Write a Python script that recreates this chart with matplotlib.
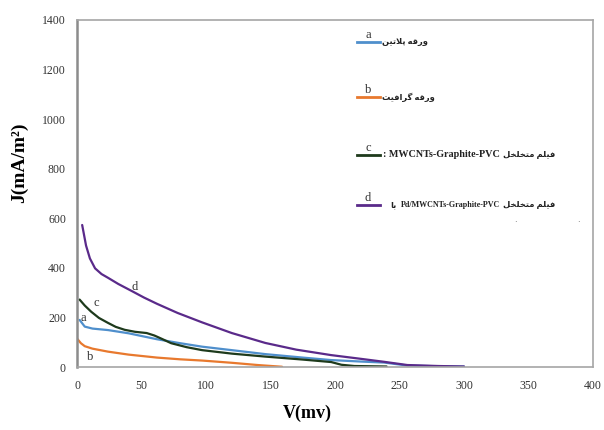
import matplotlib
matplotlib.use("Agg")
import matplotlib.pyplot as plt

# data (V in mv, J in mA/m2)
v_a = [2, 6, 12, 24, 40, 62, 80, 97, 120, 146, 175, 197, 220, 238, 256, 280, 300]
j_a = [190, 163, 155, 149, 136, 112, 96, 82, 68, 52, 38, 28, 22, 18, 6, 3, 2]

v_b = [0, 3, 6, 12, 24, 40, 62, 80, 97, 120, 140, 159]
j_b = [115, 96, 84, 74, 62, 50, 38, 31, 26, 17, 8, 1]

v_c = [2, 6, 11, 17, 24, 30, 37, 45, 54, 60, 66, 73, 85, 97, 120, 146, 175, 197, 205, 215, 240]
j_c = [272, 248, 223, 198, 178, 162, 150, 142, 137, 127, 113, 96, 80, 68, 54, 42, 30, 20, 9, 4, 2]

v_d = [4, 7, 10, 14, 19, 24, 32, 43, 52, 62, 78, 97, 120, 146, 170, 197, 220, 238, 256, 280, 300]
j_d = [573, 490, 438, 398, 375, 360, 335, 305, 280, 255, 218, 180, 137, 97, 70, 48, 33, 21, 8, 4, 2]

x_ticks = [0, 50, 100, 150, 200, 250, 300, 350, 400]
y_ticks = [0, 200, 400, 600, 800, 1000, 1200, 1400]

# persian labels written in visual order with presentation forms
varaghe = "\ufeea\ufed7\ufead\ufeed"
pelatin = "\ufee6\ufbff\ufe97\ufefc\ufb58"
grafit = "\ufe96\ufbff\ufed3\ufe8d\ufeae\ufb94"
film = "\ufee2\ufee0\ufbff\ufed3"
motakhalkhel = "\ufede\ufea8\ufee0\ufea8\ufe98\ufee3"
ba = "\ufe8e\ufe91"

letters = ["a", "b", "c", "d"]
colors = ["#4f8fcc", "#e8792e", "#1e3a1c", "#5a2a8a"]

serif = ["Liberation Serif", "DejaVu Sans"]

fig = plt.figure(figsize=(6.04, 4.30), dpi=100)
ax = fig.add_axes([0.1275, 0.1465, 0.8543, 0.807])

series = [(v_a, j_a), (v_b, j_b), (v_c, j_c), (v_d, j_d)]
for (v, j), col in zip(series, colors):
    ax.plot(v, j, color=col, lw=1.6, solid_capstyle="round", solid_joinstyle="round")

# curve letters
for (xv, yv), let in zip([(4.6, 198), (10, 40), (14.6, 258), (44.6, 322)], letters):
    ax.text(xv, yv, let, fontsize=9, family=serif, color="#333333",
            ha="center", va="center")

ax.set_xlim(0, 400)
ax.set_ylim(0, 1400)
ax.set_xticks(x_ticks)
ax.set_yticks(y_ticks)
ax.tick_params(length=0, labelsize=8.5, colors="#333333")
ax.tick_params(axis="y", pad=8)
ax.tick_params(axis="x", pad=9)
for lab in ax.get_xticklabels() + ax.get_yticklabels():
    lab.set_family(serif)

for sp in ax.spines.values():
    sp.set_color("#a6a6a6")
    sp.set_linewidth(1.2)
ax.spines["left"].set_linewidth(1.8)
ax.spines["left"].set_color("#8c8c8c")

ax.set_xlabel("V(mv)", fontsize=13, fontweight="bold", family=serif)
ax.xaxis.set_label_coords(0.446, -0.11)
ax.set_ylabel("J(mA/m²)", fontsize=14, fontweight="bold", family=serif)
ax.yaxis.set_label_coords(-0.095, 0.588)

# legend drawn by hand to keep its odd layout
rows_y = [0.937, 0.777, 0.612, 0.467]
for i in range(4):
    ax.plot([0.542, 0.587], [rows_y[i], rows_y[i]], transform=ax.transAxes,
            color=colors[i], lw=2, clip_on=False)
    ax.text(0.564, rows_y[i] + 0.02, letters[i], transform=ax.transAxes,
            fontsize=9, family=serif, color="#333333", ha="center", va="center")

fa = dict(transform=ax.transAxes, fontweight="bold", color="#222222", va="center")
ax.text(0.592, rows_y[0], pelatin + " " + varaghe, fontsize=6, family=serif, ha="left", **fa)
ax.text(0.592, rows_y[1], grafit + " " + varaghe, fontsize=6, family=serif, ha="left", **fa)
ax.text(0.8195, rows_y[2], ": MWCNTs-Graphite-PVC", fontsize=7.3, family=serif, ha="right", **fa)
ax.text(0.825, rows_y[2], motakhalkhel + " " + film, fontsize=6, family=serif, ha="left", **fa)
ax.text(0.607, rows_y[3], ba, fontsize=6, family=serif, ha="left", **fa)
ax.text(0.8195, rows_y[3], "Pd/MWCNTs-Graphite-PVC", fontsize=5.8, family=serif, ha="right", **fa)
ax.text(0.825, rows_y[3], motakhalkhel + " " + film, fontsize=6, family=serif, ha="left", **fa)
ax.text(0.848, 0.417, ".", transform=ax.transAxes, fontsize=6, color="#555555")
ax.text(0.970, 0.417, ".", transform=ax.transAxes, fontsize=6, color="#555555")

fig.savefig("out.png", dpi=100)
